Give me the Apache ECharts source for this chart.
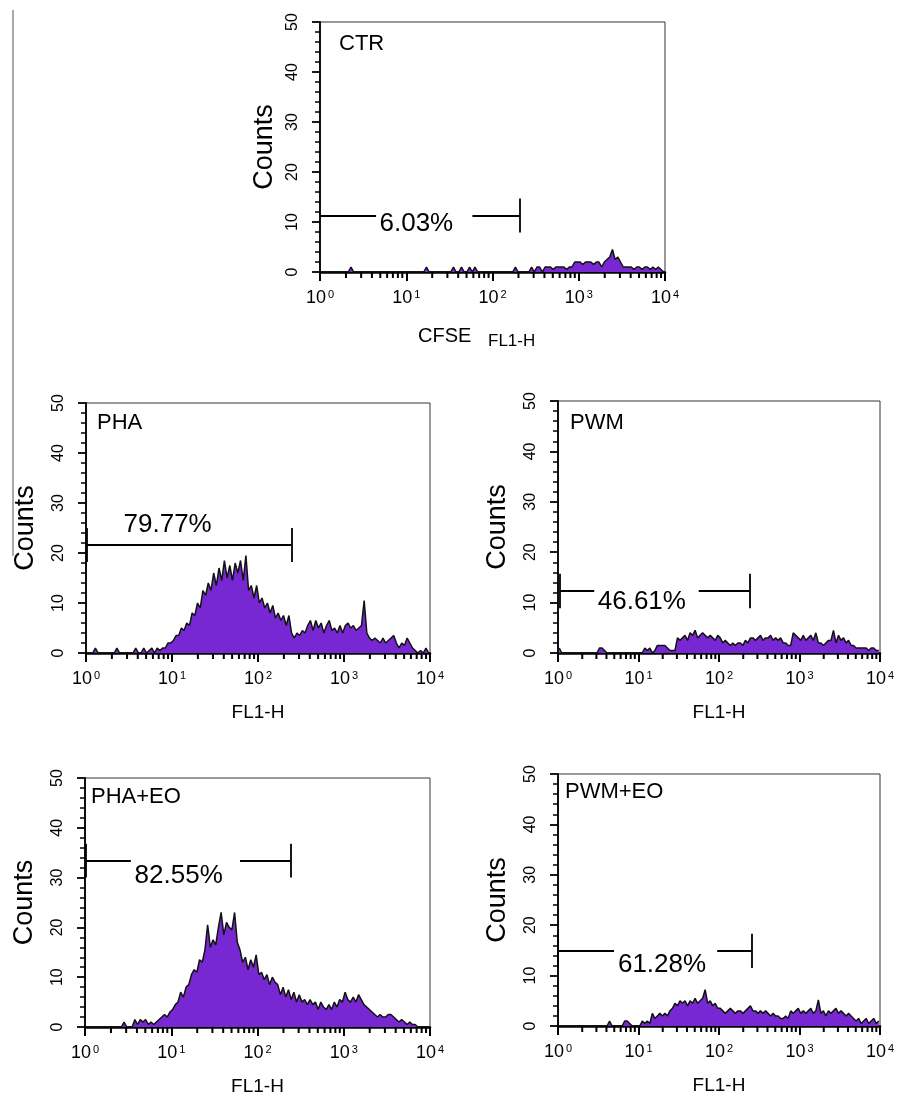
<!DOCTYPE html>
<html>
<head>
<meta charset="utf-8">
<script src="https://cdn.jsdelivr.net/npm/echarts@6/dist/echarts.min.js"></script>
<style>
html,body{margin:0;padding:0;background:#fff;}
#c{width:899px;height:1099px;}
</style>
</head>
<body>
<div id="c"></div>
<script>
// ---------- DATA ----------
const panelNames = ['CTR', 'PHA', 'PWM', 'PHA+EO', 'PWM+EO'];
const xTickExponents = [0, 1, 2, 3, 4];
const minorTickMultipliers = [2, 3, 4, 5, 6, 7, 8, 9];
const channelCount = 128; // histogram channels spread over 4 log decades

const ctrCounts = [
  0,0,0,0,0,0,0,0,0,0,0,1,0,0,0,0,0,0,0,0,0,0,0,0,0,0,0,0,0,0,0,0,
  0,0,0,0,0,0,0,1,0,0,0,0,0,0,0,0,0,1,0,0,1,0,0,1,0,1,0,0,0,0,0,0,
  0,0,0,0,0,0,0,0,1,0,0,0,0,0,1,0,1,1,0,1,1,1,0.5,1,1,1,1,0.5,1,1,2,2,
  2,1.5,2,2,2,1.5,2,2,1,2,2.5,3,4.5,2.5,3,2,1,1,1,1,0.5,1,1,0.5,1,1,0.5,1,0.5,1,0.5,0
];
const phaCounts = [
  0,0,0,1,0,0,0,0,0,0,0,1,0,0,0,0,0,0,1,0,0,1,0,0.5,1,0,1,0.5,1,1,2,2,
  2.5,3.5,3.5,5,4.5,6,5.5,8,7.5,10,9,12.5,11.5,14,12.5,16,13.5,17,14.5,18.5,15,17.5,14.5,18,16,18.5,14.5,19.5,12.5,13.5,11,13.5,
  10,11,9,10,8,9.5,7,8,6.5,7.5,5.5,7.5,4,3,4,3.5,4.5,4,5.5,6.5,4.5,6.5,5,6,4,5.5,6.5,4.5,5,4,5.5,4,
  5.5,6,5,5.5,4.5,5,5.5,10.5,4,3,2.5,3,2.5,2,3,2,2.5,3,3.5,2,1,2,1.5,3,2,1,0.5,0,0.5,0,1,0
];
const pwmCounts = [
  1,0,0,0,0,0,0,0,0,0,0,0,0,0,0,0,1,1,0.5,0,0,0,0,0,0,0,0,0,0,0,0,0,
  0,0,1,0.5,1,0,0.5,1.5,1.5,1.5,1.5,1,0.5,0.5,0.5,3,2.5,3,3.5,2.5,4,3.5,4.5,3,3.5,4,3.5,3,3.5,3,2.5,3.5,
  3,2,2.5,2,1.5,2,1.5,2,2,1.5,2.5,2,3,3,2.5,3,3.5,2.5,3,3,3.5,2.5,3,2.5,3,2,2,1.5,1.5,4,
  3.5,3,2.5,3.5,2.5,3,3.5,2.5,4,2,2,1.5,2,2.5,2.5,4.5,2,3.5,2.5,3,2,2.5,1.5,1.5,1,1,1,1,1,0.5,1,1,0.5,0.5
];
const phaEoCounts = [
  0,0,0,0,0,0,0,0,0,0,0,0,0,0,1,0,0,0,1.5,0.5,1.5,1,1.5,0.5,1,0.5,1,1.5,2,2.5,2,3,
  3.5,4.5,5,7,6,8,8.5,10.5,11.5,11,13.5,13,15.5,20.5,16,17.5,16.5,20,23,18.5,21,20,19.5,23,17,15.5,13,14,11.5,13.5,12,14.5,
  10.5,11,9.5,10.5,8.5,10,9,8.5,6.5,8,6,7.5,5.5,7,5,6.5,5,5.5,4.5,5.5,4.5,5,3.5,5,4,3.5,4.5,3.5,5,4,5.5,5,
  7,5.5,5,6,5,6.5,5.5,4.5,4,3.5,3,2.5,2,2.5,2,2,2.5,2.5,2,1.5,1,1.5,1,0.5,1,0.5,0.5,0,0,0,0,0
];
const pwmEoCounts = [
  0,0,0,0,0,0,0,0,0,0,0,0,0,0,0,0,0,0,0,0,1,0,0,0,0,0,1,1,0.5,0,0,0,
  0,1,0.5,1,0.5,2.5,1.5,2,2.5,2,2.5,2,3,3.5,4.5,4,5,4.5,5,4,5,4.5,5.5,4.5,5,5.5,7.2,4.5,5,4,4.5,3.5,
  3.5,3,2.5,3,3.5,3,2.5,3,3,2.5,3,3.5,4,3,3,2.5,3,2.5,3,2.5,2,2.5,2,2,1.5,1.5,2,1.5,3,2.5,
  3,3.5,2.5,3,2.5,3,3.5,2.5,3,5.2,2.5,3,2,3,2.5,3,3.5,2.5,3,2.5,2,2.5,2,1.5,1,1.5,0.5,1,1.5,0.5,1,1.5,0.5,1
];

// gates: horizontal bar [gateStart, gateEnd] at gateY, optional gap for the text
const gateY      = [11.3, 21.6, 12.3, 33.4, 14.9];
const gateStart  = [1, 1.03, 1.05, 1.03, 1.0];
const gateEnd    = [206, 244, 242, 244, 256];
const gapStart   = [4.47, null, 2.82, 3.4, 4.97];
const gapEnd     = [58.5, null, 56, 62.7, 95];
const leftCap    = [false, true, true, true, true];
const gateLabels = ['6.03%', '79.77%', '46.61%', '82.55%', '61.28%'];
const labelX     = [13.1, 8.9, 11, 12.2, 19.6];
const labelY     = [9.7, 25.7, 10.1, 30.3, 12.2];

// ---------- LAYOUT ----------
const grids = [
  {left: 320, top: 22,  width: 345, height: 250},
  {left: 86,  top: 403, width: 344, height: 250},
  {left: 558, top: 401, width: 322, height: 252},
  {left: 85,  top: 778, width: 345, height: 249},
  {left: 558, top: 774, width: 322, height: 252}
];
const countsGap = [42, 47, 47, 47, 47];
const panelLabelPos = [[339, 44], [97, 423], [570, 423], [91, 797], [565, 792]];

const FONT = '"Liberation Sans", Arial, Helvetica, sans-serif';
const PURPLE = '#7828d2';
const allCounts = [ctrCounts, phaCounts, pwmCounts, phaEoCounts, pwmEoCounts];
const binCenters = Array.from({length: channelCount}, (_, i) => Math.pow(10, (i + 0.5) * 4 / channelCount));
const minorTickValues = [];
xTickExponents.slice(0, -1).forEach(e => minorTickMultipliers.forEach(m => minorTickValues.push(m * Math.pow(10, e))));

const chart = echarts.init(document.getElementById('c'), null, {renderer: 'canvas'});

const xAxes = [], yAxes = [], series = [];
grids.forEach((g, k) => {
  xAxes.push({
    gridIndex: k, type: 'log', logBase: 10, min: 1, max: 10000,
    axisLine: {show: true, onZero: false, lineStyle: {color: '#000', width: 2.5}},
    axisTick: {show: true, inside: false, length: 9, lineStyle: {color: '#000', width: 2}},
    minorTick: {show: false},
    splitLine: {show: false},
    axisLabel: {
      margin: 17, color: '#000', fontFamily: FONT,
      formatter: v => '{b|10}{s|' + Math.round(Math.log10(v)) + '}',
      rich: {
        b: {fontSize: 18, fontFamily: FONT, color: '#000', lineHeight: 19},
        s: {fontSize: 11, fontFamily: FONT, color: '#000', verticalAlign: 'top', lineHeight: 19, padding: [0, 0, 0, 2]}
      }
    },
    name: k === 0 ? '' : 'FL1-H',
    nameLocation: 'middle', nameGap: 50,
    nameTextStyle: {fontSize: 19, fontFamily: FONT, color: '#000'}
  });
  yAxes.push({
    gridIndex: k, type: 'value', min: 0, max: 50, interval: 10,
    axisLine: {show: true, lineStyle: {color: '#000', width: 1.8}},
    axisTick: {show: true, inside: false, length: 8, lineStyle: {color: '#000', width: 1.8}},
    minorTick: {show: true, splitNumber: 5, length: 5, lineStyle: {color: '#000', width: 1.5}},
    splitLine: {show: false},
    axisLabel: {rotate: 90, margin: 19, fontSize: 16, fontFamily: FONT, color: '#000'},
    name: 'Counts', nameLocation: 'middle', nameGap: countsGap[k],
    nameTextStyle: {fontSize: 27, fontFamily: FONT, color: '#000'}
  });

  const segs = [];
  const y = gateY[k];
  const cap = 3.4;
  if (gapStart[k] == null) {
    segs.push([{coord: [gateStart[k], y]}, {coord: [gateEnd[k], y]}]);
  } else {
    segs.push([{coord: [gateStart[k], y]}, {coord: [gapStart[k], y]}]);
    segs.push([{coord: [gapEnd[k], y]}, {coord: [gateEnd[k], y]}]);
  }
  if (leftCap[k]) segs.push([{coord: [gateStart[k], y - cap]}, {coord: [gateStart[k], y + cap]}]);
  segs.push([{coord: [gateEnd[k], y - cap]}, {coord: [gateEnd[k], y + cap]}]);

  series.push({
    type: 'line', xAxisIndex: k, yAxisIndex: k,
    data: binCenters.map((x, i) => [x, allCounts[k][i]]),
    showSymbol: false, symbol: 'none', animation: false,
    lineStyle: {color: '#111', width: 1.5},
    areaStyle: {color: PURPLE, opacity: 1},
    z: 2,
    markLine: {
      silent: true, symbol: ['none', 'none'], animation: false,
      label: {show: false},
      lineStyle: {color: '#000', width: 1.8, type: 'solid'},
      emphasis: {disabled: true},
      data: segs
    }
  });
});

chart.setOption({
  backgroundColor: '#fff',
  animation: false,
  grid: grids.map(g => Object.assign({show: true, borderColor: '#333', borderWidth: 1, backgroundColor: 'transparent'}, g)),
  xAxis: xAxes,
  yAxis: yAxes,
  series: series
});

// second pass: annotations placed through the axes' own scales
const graphic = [
  {type: 'line', shape: {x1: 13, y1: 10, x2: 13, y2: 556}, style: {stroke: '#555', lineWidth: 1}},
  {type: 'text', left: 418, top: 326, style: {text: 'CFSE', font: '20px ' + FONT, fill: '#000'}},
  {type: 'text', left: 488, top: 333, style: {text: 'FL1-H', font: '17px ' + FONT, fill: '#000'}}
];
panelNames.forEach((n, k) => {
  graphic.push({type: 'text', x: panelLabelPos[k][0], y: panelLabelPos[k][1],
    style: {text: n, font: '22px ' + FONT, fill: '#000', verticalAlign: 'middle', textVerticalAlign: 'middle'}});
  const finder = {xAxisIndex: k, yAxisIndex: k};
  const lp = chart.convertToPixel(finder, [labelX[k], labelY[k]]);
  graphic.push({type: 'text', x: lp[0], y: lp[1], z: 10,
    style: {text: gateLabels[k], font: '26px ' + FONT, fill: '#000', align: 'center', verticalAlign: 'middle',
      textAlign: 'center', textVerticalAlign: 'middle'}});
  minorTickValues.forEach(v => {
    const p = chart.convertToPixel(finder, [v, 0]);
    graphic.push({type: 'rect', shape: {x: p[0] - 1, y: p[1], width: 2, height: 6},
      style: {fill: '#000'}, z: 10});
  });
});
chart.setOption({graphic: graphic});
</script>
</body>
</html>
